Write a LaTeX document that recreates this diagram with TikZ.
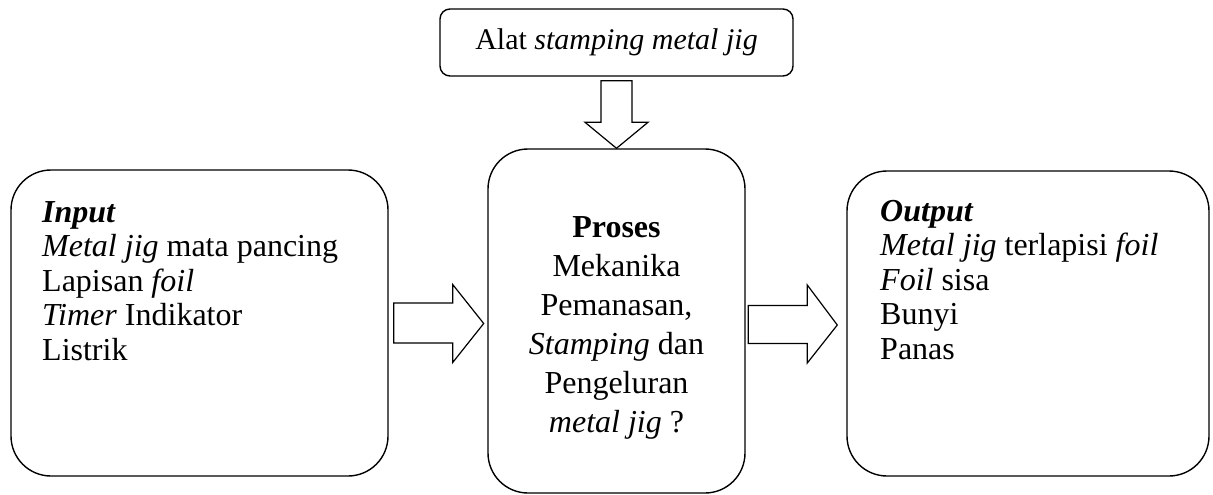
\documentclass[tikz,border=0pt]{standalone}
\usepackage{fontspec}
\setmainfont{Liberation Serif}
\usetikzlibrary{calc}
\tikzset{
  box/.style={draw, line width=1.4pt, rounded corners=40pt, inner sep=0pt},
  topbox/.style={draw, line width=1.4pt, rounded corners=10pt, inner sep=0pt, font=\fontsize{30}{36}\selectfont},
  blk/.style={draw, line width=1.2pt, fill=white, line join=miter},
  sidetxt/.style={inner sep=0pt, align=left, anchor=north west, font=\fontsize{32}{34.5}\selectfont},
  midtxt/.style={inner sep=0pt, align=center, anchor=north, font=\fontsize{32}{39}\selectfont},
}
\begin{document}
\begin{tikzpicture}[x=1pt,y=-1pt]
\useasboundingbox (0,0) rectangle (1213,495);
% boxes
\node[topbox, minimum width=353pt, minimum height=67pt] (tool) at (616.5,42.5) {Alat \textit{stamping metal jig}};
\node[box, minimum width=257pt, minimum height=344pt] (proc) at (616.5,321) {};
\node[box, minimum width=377pt, minimum height=306pt] (inp) at (199.5,323) {};
\node[box, minimum width=362pt, minimum height=305pt] (outp) at (1028,323.5) {};
% texts
\node[sidetxt] (tin) at (42,201)
  {\textbf{\textit{Input}}\\ \textit{Metal jig} mata pancing\\ Lapisan \textit{foil}\\ \textit{Timer} Indikator\\ Listrik};
\node[midtxt] (tproc) at (616.5,216.5)
  {\textbf{Proses}\\ Mekanika\\ Pemanasan,\\ \textit{Stamping} dan\\ Pengeluran\\ \textit{metal jig} ?};
\node[sidetxt] (tout) at (880,200)
  {\textbf{\textit{Output}}\\ \textit{Metal jig} terlapisi \textit{foil}\\ \textit{Foil} sisa\\ Bunyi\\ Panas};
% block arrow: tool -> proc
\draw[blk] ($(tool.south)+(-15.5,4)$) -- ($(tool.south)+(15.5,4)$) -- ($(proc.north)+(15.5,-26)$)
  -- ($(proc.north)+(31.5,-26)$) -- (proc.north) -- ($(proc.north)+(-31.5,-26)$)
  -- ($(proc.north)+(-15.5,-26)$) -- cycle;
% block arrow: inp -> proc
\draw[blk] ($(inp.east)+(5,-20)$) -- ($(inp.east)+(64,-20)$) -- ($(inp.east)+(64,-38.5)$)
  -- ($(inp.east)+(95,0.5)$) -- ($(inp.east)+(64,39.5)$) -- ($(inp.east)+(64,20)$)
  -- ($(inp.east)+(5,20)$) -- cycle;
% block arrow: proc -> outp
\draw[blk] ($(outp.west)+(-98,-18)$) -- ($(outp.west)+(-39,-18)$) -- ($(outp.west)+(-39,-38.5)$)
  -- ($(outp.west)+(-9,1.5)$) -- ($(outp.west)+(-39,39.5)$) -- ($(outp.west)+(-39,20)$)
  -- ($(outp.west)+(-98,20)$) -- cycle;
\end{tikzpicture}
\end{document}
